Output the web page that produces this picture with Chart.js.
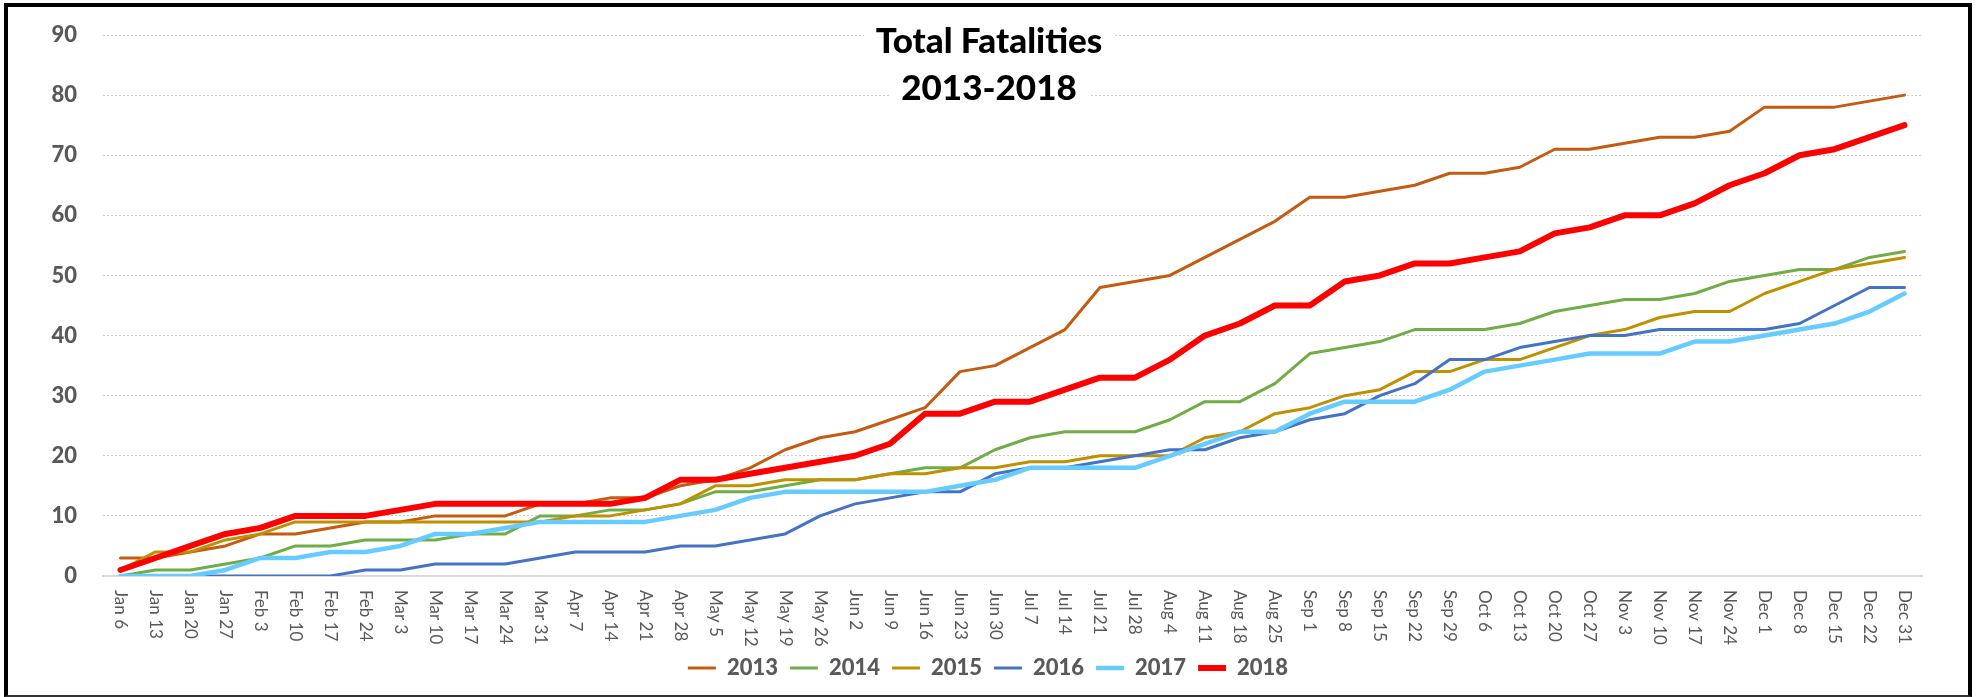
<!DOCTYPE html>
<html>
<head>
<meta charset="utf-8">
<title>Total Fatalities 2013-2018</title>
<script src="https://cdn.jsdelivr.net/npm/chart.js@4.4.1/dist/chart.umd.min.js"></script>
<style>
  html, body { margin: 0; padding: 0; background: #fff; }
  #frame {
    position: absolute; left: 4px; top: 3px;
    width: 1960px; height: 688px;
    border: 4px solid #000; border-bottom: 2px solid #333;
  }
  canvas { display: block; }
</style>
</head>
<body>
<div id="frame"><canvas id="fatalChart" width="1960" height="688"></canvas></div>
<script>
// week labels (x axis)
const weeks = ['Jan 6', 'Jan 13', 'Jan 20', 'Jan 27', 'Feb 3', 'Feb 10', 'Feb 17', 'Feb 24',
  'Mar 3', 'Mar 10', 'Mar 17', 'Mar 24', 'Mar 31', 'Apr 7', 'Apr 14', 'Apr 21', 'Apr 28',
  'May 5', 'May 12', 'May 19', 'May 26', 'Jun 2', 'Jun 9', 'Jun 16', 'Jun 23', 'Jun 30',
  'Jul 7', 'Jul 14', 'Jul 21', 'Jul 28', 'Aug 4', 'Aug 11', 'Aug 18', 'Aug 25',
  'Sep 1', 'Sep 8', 'Sep 15', 'Sep 22', 'Sep 29', 'Oct 6', 'Oct 13', 'Oct 20', 'Oct 27',
  'Nov 3', 'Nov 10', 'Nov 17', 'Nov 24', 'Dec 1', 'Dec 8', 'Dec 15', 'Dec 22', 'Dec 31'];

// cumulative fatalities per year
const fat2013 = [3, 3, 4, 5, 7, 7, 8, 9, 9, 10, 10, 10, 12, 12, 13, 13, 15, 16, 18, 21, 23,
  24, 26, 28, 34, 35, 38, 41, 48, 49, 50, 53, 56, 59, 63, 63, 64, 65, 67, 67, 68, 71, 71,
  72, 73, 73, 74, 78, 78, 78, 79, 80];
const fat2014 = [0, 1, 1, 2, 3, 5, 5, 6, 6, 6, 7, 7, 10, 10, 11, 11, 12, 14, 14, 15, 16,
  16, 17, 18, 18, 21, 23, 24, 24, 24, 26, 29, 29, 32, 37, 38, 39, 41, 41, 41, 42, 44, 45,
  46, 46, 47, 49, 50, 51, 51, 53, 54];
const fat2015 = [1, 4, 4, 6, 7, 9, 9, 9, 9, 9, 9, 9, 9, 10, 10, 11, 12, 15, 15, 16, 16,
  16, 17, 17, 18, 18, 19, 19, 20, 20, 20, 23, 24, 27, 28, 30, 31, 34, 34, 36, 36, 38, 40,
  41, 43, 44, 44, 47, 49, 51, 52, 53];
const fat2016 = [0, 0, 0, 0, 0, 0, 0, 1, 1, 2, 2, 2, 3, 4, 4, 4, 5, 5, 6, 7, 10,
  12, 13, 14, 14, 17, 18, 18, 19, 20, 21, 21, 23, 24, 26, 27, 30, 32, 36, 36, 38, 39, 40,
  40, 41, 41, 41, 41, 42, 45, 48, 48];
const fat2017 = [0, 0, 0, 1, 3, 3, 4, 4, 5, 7, 7, 8, 9, 9, 9, 9, 10, 11, 13, 14, 14,
  14, 14, 14, 15, 16, 18, 18, 18, 18, 20, 22, 24, 24, 27, 29, 29, 29, 31, 34, 35, 36, 37,
  37, 37, 39, 39, 40, 41, 42, 44, 47];
const fat2018 = [1, 3, 5, 7, 8, 10, 10, 10, 11, 12, 12, 12, 12, 12, 12, 13, 16, 16, 17, 18, 19,
  20, 22, 27, 27, 29, 29, 31, 33, 33, 36, 40, 42, 45, 45, 49, 50, 52, 52, 53, 54, 57, 58,
  60, 60, 62, 65, 67, 70, 71, 73, 75];

const years = ['2013', '2014', '2015', '2016', '2017', '2018'];
const yTicks = [0, 10, 20, 30, 40, 50, 60, 70, 80, 90];
const titleLines = ['Total Fatalities', '2013-2018'];

const lineColors = ['#C55A11', '#70AD47', '#BF9000', '#4472C4', '#66CCFF', '#FF0000'];
const lineWidths = [3, 3, 3, 3, 4.5, 6];

Chart.defaults.font.family = 'Lato, "Liberation Sans", sans-serif';

// rotated week labels, reading top to bottom
const weekLabels = {
  id: 'weekLabels',
  afterDraw(chart) {
    const { ctx, chartArea, scales } = chart;
    ctx.save();
    ctx.font = '17px Lato, "Liberation Sans", sans-serif';
    ctx.fillStyle = '#595959';
    ctx.textAlign = 'left';
    ctx.textBaseline = 'middle';
    weeks.forEach((w, i) => {
      ctx.save();
      ctx.translate(scales.x.getPixelForValue(i), chartArea.bottom + 14);
      ctx.rotate(Math.PI / 2);
      ctx.fillText(w, 0, 0);
      ctx.restore();
    });
    ctx.restore();
  }
};

// two line title sitting over the top of the plot
const titleBlock = {
  id: 'titleBlock',
  afterDraw(chart) {
    const ctx = chart.ctx;
    const cx = chart.width / 2 + 1;
    ctx.save();
    ctx.font = '900 35px Lato, "Liberation Sans", sans-serif';
    ctx.textAlign = 'center';
    ctx.textBaseline = 'alphabetic';
    titleLines.forEach((t, i) => {
      const base = 46 + i * 47;
      const w = ctx.measureText(t).width;
      ctx.fillStyle = '#fff';
      ctx.fillRect(cx - w / 2 - 12, base - 28, w + 24, 34);
      ctx.fillStyle = '#000';
      ctx.fillText(t, cx, base);
    });
    ctx.restore();
  }
};

const series = [fat2013, fat2014, fat2015, fat2016, fat2017, fat2018];

const ctx = document.getElementById('fatalChart').getContext('2d');
const fatalChart = new Chart(ctx, {
  type: 'line',
  data: {
    labels: weeks,
    datasets: series.map((d, i) => ({
      label: years[i],
      data: d,
      borderColor: lineColors[i],
      backgroundColor: lineColors[i],
      borderWidth: lineWidths[i],
      order: series.length - 1 - i,
      tension: 0,
      pointRadius: 0,
      borderJoinStyle: 'round',
      borderCapStyle: 'round',
      fill: false
    }))
  },
  options: {
    responsive: false,
    animation: false,
    layout: { padding: { top: 28, bottom: 6, left: 0, right: 0 } },
    scales: {
      x: {
        type: 'category',
        offset: true,
        grid: { display: false },
        border: { display: true, color: '#d9d9d9', width: 2 },
        ticks: { display: false },
        afterFit: (s) => { s.height = 69; }
      },
      y: {
        min: 0,
        max: 90,
        // invisible tick marks keep the labels off the plot without adding top padding
        grid: { color: '#d0d0d0', lineWidth: 1, drawTicks: true, tickLength: 26, tickColor: 'rgba(0,0,0,0)' },
        border: { display: false, dash: [2, 2] },
        ticks: {
          padding: 0,
          color: '#595959',
          font: { size: 22, weight: '900' }
        },
        afterBuildTicks: (s) => { s.ticks = yTicks.map(v => ({ value: v })); },
        afterFit: (s) => { s.width = 95; }
      },
      yr: {
        position: 'right',
        grid: { display: false },
        border: { display: false },
        ticks: { display: false },
        afterFit: (s) => { s.width = 46; }
      }
    },
    plugins: {
      title: { display: false },
      tooltip: { enabled: false },
      legend: {
        position: 'bottom',
        labels: {
          usePointStyle: true,
          pointStyle: 'line',
          pointStyleWidth: 28,
          padding: 12,
          color: '#595959',
          font: { size: 22, weight: '900' },
          sort: (a, b) => a.datasetIndex - b.datasetIndex
        }
      }
    }
  },
  plugins: [weekLabels, titleBlock]
});
</script>
</body>
</html>
